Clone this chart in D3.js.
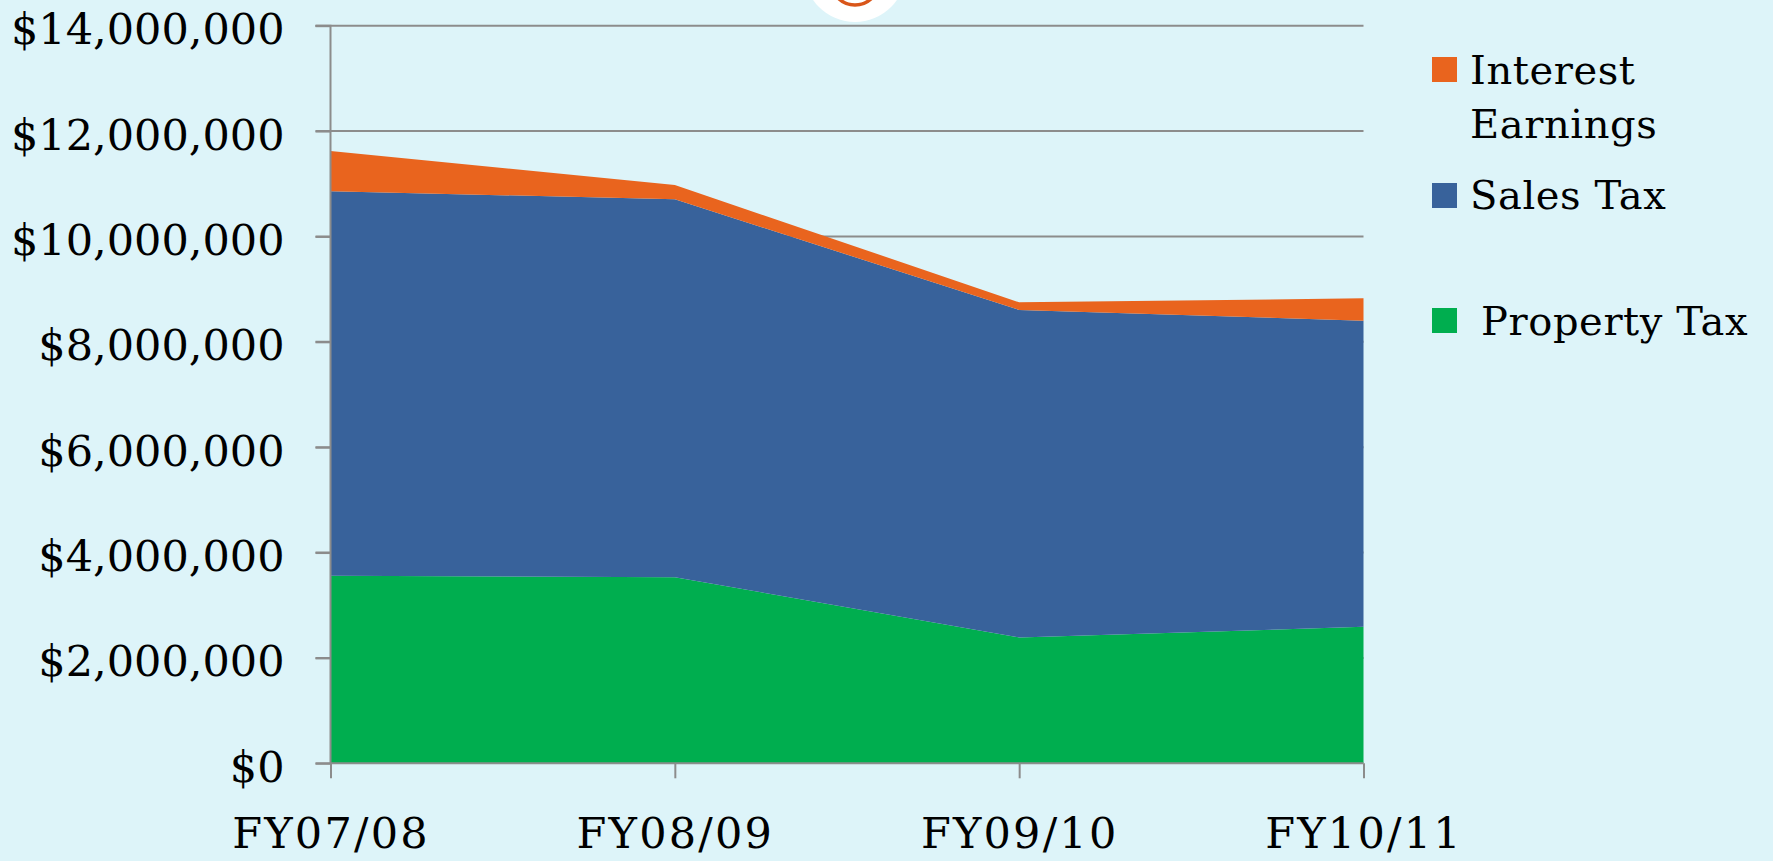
<!DOCTYPE html>
<html>
<head>
<meta charset="utf-8">
<script src="https://cdn.jsdelivr.net/npm/d3@7"></script>
<style>
  html, body { margin: 0; padding: 0; background: #DDF4F9; }
  svg { display: block; }
  text { font-family: "DejaVu Serif", Georgia, serif; fill: #000; }
</style>
</head>
<body>
<svg id="chart" width="1773" height="861"></svg>
<script>
// ---- data ----
const categories = ["FY07/08", "FY08/09", "FY09/10", "FY10/11"];
const propertyTax = [3560000, 3530000, 2390000, 2590000];
const salesTax = [7300000, 7175000, 6215000, 5810000];
const interestEarnings = [760000, 270000, 145000, 425000];
const seriesNames = ["Property Tax", "Sales Tax", "Interest Earnings"];
const seriesColors = ["#00AE4F", "#38629B", "#E9641E"];
const yTicks = [0, 2000000, 4000000, 6000000, 8000000, 10000000, 12000000, 14000000];

// ---- layout ----
const svg = d3.select("#chart");
const W = 1773, H = 861;
const mLeft = 330.5, mRight = 1363.5, mTop = 25.7, mBottom = 763.3;

svg.append("rect").attr("width", W).attr("height", H).attr("fill", "#DDF4F9");

const x = d3.scalePoint().domain(categories).range([mLeft, mRight]);
const y = d3.scaleLinear().domain([0, 14000000]).range([mBottom, mTop]);

// table for stacking
const table = categories.map((c, i) => ({
  cat: c,
  "Property Tax": propertyTax[i],
  "Sales Tax": salesTax[i],
  "Interest Earnings": interestEarnings[i]
}));
const stacked = d3.stack().keys(seriesNames)(table);

// gridlines
const gridColor = "#8C8C8C";
svg.append("g").selectAll("line").data(yTicks.filter(d => d > 0)).join("line")
  .attr("x1", mLeft - 15).attr("x2", mRight)
  .attr("y1", d => y(d)).attr("y2", d => y(d))
  .attr("stroke", gridColor).attr("stroke-width", 2);

// areas
const area = d3.area()
  .x(d => x(d.data.cat))
  .y0(d => y(d[0]))
  .y1(d => y(d[1]));
svg.append("g").selectAll("path").data(stacked).join("path")
  .attr("d", area)
  .attr("fill", (d, i) => seriesColors[i]);

// y axis
const yAxis = d3.axisLeft(y).tickValues(yTicks).tickSize(15).tickPadding(31)
  .tickFormat(d => "$" + d3.format(",")(d));
const gy = svg.append("g").attr("transform", `translate(${mLeft},0)`).call(yAxis);
gy.select(".domain").attr("stroke", gridColor).attr("stroke-width", 2)
  .attr("d", `M-15,${mTop}H0V${mBottom}H-15`);
gy.selectAll(".tick line").attr("stroke", gridColor).attr("stroke-width", 2);
gy.selectAll(".tick text")
  .attr("font-size", 43).attr("dy", "0.42em").attr("letter-spacing", 0)
  .style("font-family", "'DejaVu Serif', serif").attr("fill", "#000");

// x axis
const xAxis = d3.axisBottom(x).tickSize(15).tickPadding(39);
const gx = svg.append("g").attr("transform", `translate(0,${mBottom})`).call(xAxis);
gx.select(".domain").attr("stroke", gridColor).attr("stroke-width", 2)
  .attr("d", `M${mLeft},0H${mRight}`);
gx.selectAll(".tick line").attr("stroke", gridColor).attr("stroke-width", 2);
gx.selectAll(".tick text")
  .attr("font-size", 43).attr("letter-spacing", 2.2)
  .style("font-family", "'DejaVu Serif', serif").attr("fill", "#000");

// legend (top to bottom: Interest, Sales, Property)
const legendItems = [
  { name: "Interest Earnings", lines: ["Interest", "Earnings"], color: seriesColors[2], sq: 57, base: 84, tx: 1470 },
  { name: "Sales Tax", lines: ["Sales Tax"], color: seriesColors[1], sq: 183, base: 209, tx: 1470 },
  { name: "Property Tax", lines: ["Property Tax"], color: seriesColors[0], sq: 308, base: 335, tx: 1481 }
];
const lg = svg.append("g");
legendItems.forEach(it => {
  lg.append("rect").attr("x", 1432).attr("y", it.sq).attr("width", 25).attr("height", 25).attr("fill", it.color);
  it.lines.forEach((t, j) => {
    lg.append("text").attr("x", it.tx).attr("y", it.base + j * 54)
      .attr("font-size", 40).attr("letter-spacing", 0.6).text(t);
  });
});

// decorative logo clipped at the top
svg.append("circle").attr("cx", 855).attr("cy", -29).attr("r", 51).attr("fill", "#FFFFFF");
svg.append("circle").attr("cx", 855).attr("cy", -19).attr("r", 24).attr("fill", "none")
  .attr("stroke", "#D9561A").attr("stroke-width", 3.5);
</script>
</body>
</html>
